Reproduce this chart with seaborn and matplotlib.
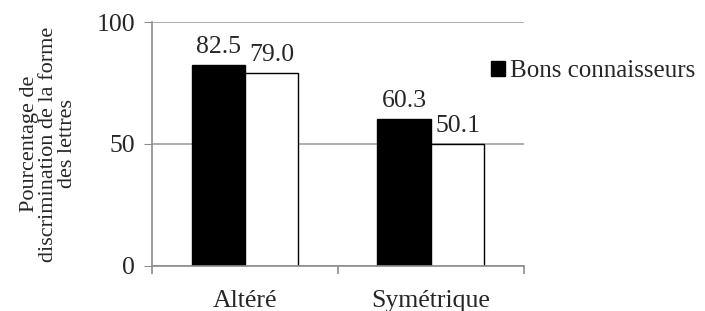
import seaborn as sns
import matplotlib.pyplot as plt
import pandas as pd

# data
conditions = ["Altéré", "Symétrique"]
groups = ["Bons connaisseurs", "Mauvais connaisseurs"]
bons = [82.5, 60.3]
mauvais = [79.0, 50.1]

data = pd.DataFrame({
    "condition": conditions * 2,
    "groupe": [groups[0]] * 2 + [groups[1]] * 2,
    "score": bons + mauvais,
})

sns.set_style("white")
plt.rcParams["font.family"] = ["Liberation Serif", "DejaVu Serif"]

fig = plt.figure(figsize=(7.05, 3.11), dpi=100)
ax = fig.add_axes([0.2156, 0.145, 0.5275, 0.784])

sns.barplot(
    data=data, x="condition", y="score", hue="groupe",
    palette=["black", "white"], edgecolor="black", linewidth=1,
    width=0.575, ax=ax, legend=True
)

# value labels
for cont in ax.containers:
    ax.bar_label(cont, fmt="%.1f", padding=5, fontsize=18.5)

ax.set_ylim(0, 100)
ax.set_xlim(-0.5, 1.5)
ax.set_yticks([0, 50, 100])
ax.yaxis.grid(True, color="#a0a0a0", linewidth=1.2)
ax.set_axisbelow(True)

for side in ["top", "right"]:
    ax.spines[side].set_visible(False)
for side in ["left", "bottom"]:
    ax.spines[side].set_color("#8c8c8c")
    ax.spines[side].set_linewidth(1.2)

ax.tick_params(axis="y", which="major", left=True, length=6, color="#8c8c8c",
               labelsize=18.5, pad=6)
ax.tick_params(axis="x", which="major", bottom=False, labelsize=18.5, pad=14)
ax.set_xticks([-0.5, 0.5, 1.5], minor=True)
ax.tick_params(axis="x", which="minor", bottom=True, length=6, color="#8c8c8c",
               width=1.2)

ax.set_xlabel("")
ax.set_ylabel("Pourcentage de\ndiscrimination de la forme\ndes lettres",
              fontsize=16, labelpad=14, linespacing=1.0)

# only the first legend entry shows
handles, labels = ax.get_legend_handles_labels()
ax.get_legend().remove()
fig.legend(handles[:1], labels[:1], loc="center left",
           bbox_to_anchor=(0.682, 0.772), frameon=False, fontsize=18,
           handlelength=0.55, handleheight=0.55, handletextpad=0.2,
           borderaxespad=0)

plt.savefig("out.png", dpi=100)
